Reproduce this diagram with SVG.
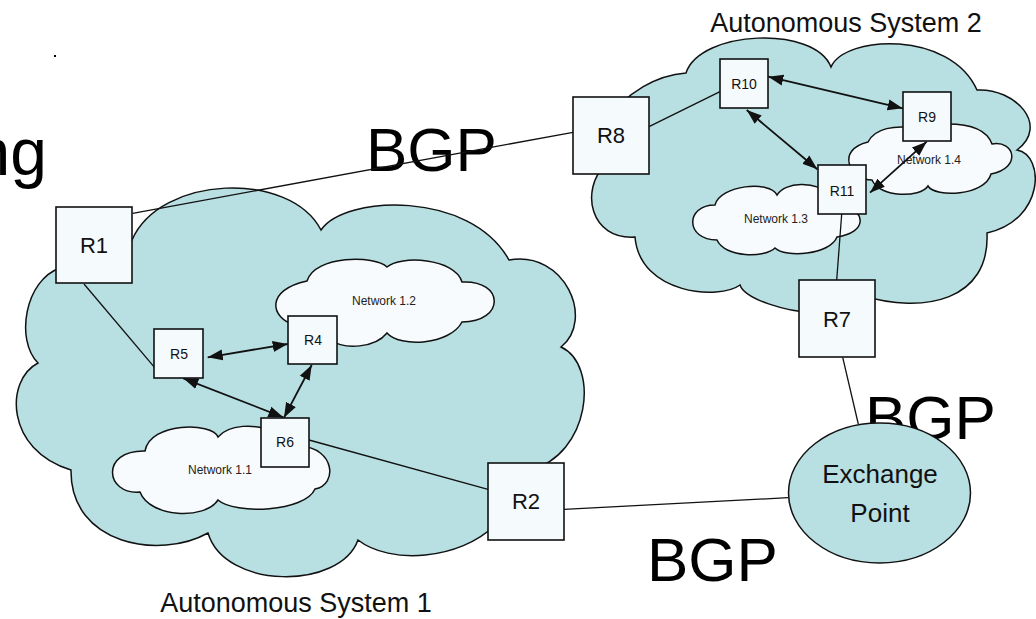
<svg xmlns="http://www.w3.org/2000/svg" width="1036" height="619" viewBox="0 0 1036 619">
<style>
text{font-family:"Liberation Sans",Arial,sans-serif;fill:#111}
.as{fill:#b8dfe2;stroke:#111;stroke-width:1.5}
.net{fill:#f7fbfd;stroke:#111;stroke-width:1.5}
.rt{fill:#f5fafd;stroke:#111;stroke-width:1.6}
.ln{stroke:#111;stroke-width:1.3;fill:none}
.ar{stroke:#111;stroke-width:1.8;fill:none;marker-start:url(#ah);marker-end:url(#ah)}
.big{font-size:62px;fill:#000}
.lg{font-size:22px;text-anchor:middle}
.sm{font-size:14px;text-anchor:middle}
.nt{font-size:12px;text-anchor:middle;fill:#222}
.asl{font-size:27px;text-anchor:middle}
</style>
<defs>
<marker id="ah" markerUnits="userSpaceOnUse" markerWidth="16" markerHeight="12" refX="15" refY="5.5" orient="auto-start-reverse" viewBox="0 0 16 11">
<path d="M0,0 L15,5.5 L0,11 z" fill="#111"/>
</marker>
</defs>
<rect width="1036" height="619" fill="#fff"/>
<rect x="54" y="55" width="2" height="2" fill="#000"/>
<text x="47" y="175" style="font-size:66px;fill:#000;text-anchor:end">ng</text>
<text class="big" x="366" y="171">BGP</text>
<text class="big" x="865" y="439">BGP</text>
<text class="big" x="647" y="581">BGP</text>
<g id="as1">
<path class="as" d="M 90 250 L 132 240 C 160 175, 290 170, 321 230 C 345 195, 470 190, 509 260 C 565 250, 595 320, 561 347 C 600 365, 590 455, 530 470 L 495 525 C 460 560, 390 565, 358 540 C 340 590, 225 590, 208 533 C 160 560, 70 545, 71 470 C 5 450, 5 380, 38 363 C 15 340, 25 280, 60 268 Z"/>
</g>
<g id="as2">
<path class="as" d="M 605 125 C 625 90, 660 75, 686 73 C 700 30, 815 25, 831 67 C 845 35, 950 30, 977 90 C 1015 88, 1050 125, 1017 150 C 1045 155, 1045 220, 987 233 C 990 300, 925 315, 860 295 L 810 312 C 790 312, 745 300, 740 285 C 720 300, 640 295, 635 237 C 590 240, 580 190, 605 165 Z"/>
</g>
<g id="net12">
<path class="net" d="M 295 325 C 270 318, 265 290, 307 281 C 315 255, 375 255, 387 267 C 400 255, 455 258, 462 282 C 505 280, 505 322, 462 322 C 450 345, 400 348, 387 333 C 375 348, 345 350, 330 340 Z"/>
<text class="nt" x="384" y="305">Network 1.2</text>
</g>
<g id="net11">
<path class="net" d="M 300 446 C 335 448, 338 485, 315 489 C 305 512, 235 515, 218 500 C 205 520, 150 518, 140 492 C 105 495, 100 450, 145 451 C 150 422, 212 422, 218 437 C 228 425, 255 422, 275 433 Z"/>
<text class="nt" x="220" y="474">Network 1.1</text>
</g>
<g id="net13">
<path class="net" d="M 845 205 C 865 212, 868 232, 837 237 C 830 255, 785 258, 775 248 C 765 258, 725 258, 717 240 C 685 240, 685 205, 715 205 C 720 185, 770 180, 777 195 C 785 182, 815 180, 830 195 Z"/>
<text class="nt" x="776" y="223">Network 1.3</text>
</g>
<g id="net14">
<path class="net" d="M 930 125 C 960 122, 985 125, 992 144 C 1015 140, 1022 168, 991 174 C 985 196, 935 198, 928 186 C 920 198, 880 198, 872 180 C 850 180, 835 150, 868 142 C 875 128, 895 125, 915 128 Z"/>
<text class="nt" x="929" y="164">Network 1.4</text>
</g>
<g id="connectors">
<line class="ln" x1="132.7" y1="213.3" x2="573" y2="132.3"/>
<line class="ln" x1="649" y1="126.7" x2="720" y2="91.7"/>
<line class="ln" x1="84" y1="284" x2="154.5" y2="367.3"/>
<line class="ln" x1="309" y1="440" x2="488" y2="489.3"/>
<line class="ln" x1="564" y1="509.3" x2="788" y2="497.7"/>
<line class="ln" x1="842.7" y1="357.3" x2="858.3" y2="424"/>
<line class="ln" x1="841.7" y1="214" x2="836.7" y2="280"/>
<line class="ar" x1="207.7" y1="357.3" x2="287.7" y2="344"/>
<line class="ar" x1="183.3" y1="378.3" x2="283.3" y2="417.3"/>
<line class="ar" x1="311.7" y1="365" x2="284" y2="417.7"/>
<line class="ar" x1="768.3" y1="76.7" x2="902.7" y2="108.3"/>
<line class="ar" x1="746.7" y1="110" x2="817.3" y2="169.3"/>
<line class="ar" x1="926.7" y1="141.7" x2="870" y2="192.7"/>
</g>
<g id="exchange">
<ellipse cx="879.5" cy="493" rx="91" ry="70" fill="#b8dfe2" stroke="#111" stroke-width="1.5"/>
<text x="880" y="483" style="font-size:26px;text-anchor:middle">Exchange</text>
<text x="880" y="522" style="font-size:26px;text-anchor:middle">Point</text>
</g>
<g id="R1"><rect class="rt" x="56" y="207" width="76" height="76"/><text class="lg" x="94" y="253">R1</text></g>
<g id="R2"><rect class="rt" x="488" y="463" width="76" height="77"/><text class="lg" x="526" y="509">R2</text></g>
<g id="R7"><rect class="rt" x="799" y="280" width="76" height="77"/><text class="lg" x="837" y="327">R7</text></g>
<g id="R8"><rect class="rt" x="573" y="97" width="76" height="77"/><text class="lg" x="611" y="143">R8</text></g>
<g id="R4"><rect class="rt" x="288" y="316" width="49" height="48"/><text class="sm" x="313" y="345">R4</text></g>
<g id="R5"><rect class="rt" x="154" y="329" width="49" height="49"/><text class="sm" x="179" y="359">R5</text></g>
<g id="R6"><rect class="rt" x="261" y="418" width="48" height="49"/><text class="sm" x="285" y="447">R6</text></g>
<g id="R9"><rect class="rt" x="903" y="92" width="48" height="49"/><text class="sm" x="927" y="122">R9</text></g>
<g id="R10"><rect class="rt" x="720" y="59" width="48" height="49"/><text class="sm" x="744" y="89">R10</text></g>
<g id="R11"><rect class="rt" x="818" y="165" width="48" height="49"/><text class="sm" x="842" y="196">R11</text></g>
<text class="asl" x="846" y="32">Autonomous System 2</text>
<text class="asl" x="296" y="612">Autonomous System 1</text>
</svg>
